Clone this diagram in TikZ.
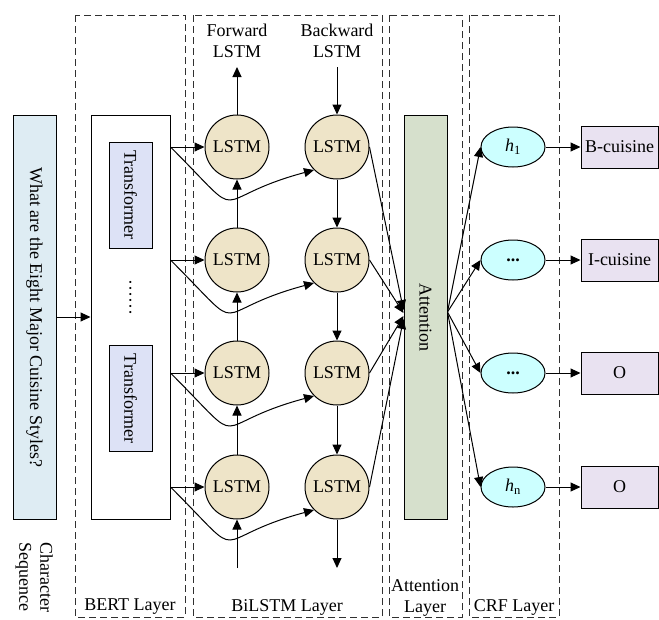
\documentclass[tikz,border=0pt]{standalone}
\usepackage{fontspec}
\setmainfont{Liberation Serif}
\usetikzlibrary{arrows.meta,calc,shapes.geometric}
\definecolor{charfill}{HTML}{DEECF3}
\definecolor{transfill}{HTML}{DDE2F6}
\definecolor{lstmfill}{HTML}{EEE4C8}
\definecolor{attfill}{HTML}{D6E0CC}
\definecolor{hfill}{HTML}{CCFFFF}
\definecolor{outfill}{HTML}{E9E2F1}
\definecolor{dashcol}{HTML}{303030}
\begin{document}
\begin{tikzpicture}[x=1pt,y=-1pt,
  every node/.style={font=\fontsize{18}{21}\selectfont, inner sep=1pt},
  layerbox/.style={draw=dashcol, line width=1pt, dash pattern=on 7pt off 4pt},
  tallbox/.style={draw, line width=1pt, minimum width=43pt, minimum height=404pt},
  transbox/.style={draw, line width=1pt, fill=transfill, minimum width=43pt, minimum height=106pt},
  lstm/.style={draw, circle, line width=1pt, fill=lstmfill, minimum size=64pt},
  hnode/.style={draw, ellipse, line width=1pt, fill=hfill, minimum width=64pt, minimum height=40pt},
  outbox/.style={draw, line width=1pt, fill=outfill, minimum width=77pt, minimum height=42pt},
  arr/.style={line width=1pt, -{Triangle[length=10pt,width=9pt]}},
  plain/.style={line width=1pt}
]
\useasboundingbox (0,0) rectangle (659,619);

% layer boxes
\draw[layerbox] (75,15) rectangle (185,617);
\draw[layerbox] (193,15) rectangle (382,617);
\draw[layerbox] (389,15) rectangle (462,617);
\draw[layerbox] (469,15) rectangle (559,617);

% layer labels
\node (lbert) at (130,607) {BERT Layer};
\node (lbilstm) at (287,607) {BiLSTM Layer};
\node[align=center] (latt) at (425,598) {Attention\\Layer};
\node (lcrf) at (514,607) {CRF Layer};
\node (lchar) at (34,577) {\rotatebox{-90}{\begin{tabular}{@{}c@{}}Character\\Sequence\end{tabular}}};

% input
\node[tallbox, fill=charfill] (char) at (34.5,317) {\rotatebox{-90}{What are the Eight Major Cuisine Styles?}};

% BERT
\node[tallbox, fill=white, minimum width=79pt] (bert) at (130.5,317) {};
\node[transbox] (t1) at (130.5,195) {\rotatebox{-90}{Transformer}};
\node[transbox] (t2) at (130.5,398.5) {\rotatebox{-90}{Transformer}};
\node (tdots) at (130.5,297) {\rotatebox{-90}{……}};

\draw[arr] (char.east) -- (bert.west);

% LSTMs
\foreach \i/\y in {1/147,2/260,3/373,4/487}{
  \node[lstm] (f\i) at (237,\y) {LSTM};
  \node[lstm] (b\i) at (337,\y) {LSTM};
  \node[hnode] (h\i) at (513,\y) {};
}
\node[align=center] (fwdlab) at (237,41) {Forward\\LSTM};
\node[align=center] (bwdlab) at (337,41) {Backward\\LSTM};
\coordinate (ftop) at (237,67);
\coordinate (btop) at (337,67);
\coordinate (fbot) at (237,568);
\coordinate (bbot) at (337,568);

\draw[arr] (f1.north) -- (ftop);
\draw[arr] (btop) -- (b1.north);
\draw[arr] (fbot) -- (f4.south);
\draw[arr] (b4.south) -- (bbot);
\draw[arr] (f4.north) -- (f3.south);
\draw[arr] (f3.north) -- (f2.south);
\draw[arr] (f2.north) -- (f1.south);
\draw[arr] (b1.south) -- (b2.north);
\draw[arr] (b2.south) -- (b3.north);
\draw[arr] (b3.south) -- (b4.north);

\foreach \i in {1,2,3,4}{
  \draw[arr] (bert.east |- f\i.west) -- (f\i.west);
  \draw[arr] (bert.east |- f\i.west) to[out=-45,in=195,looseness=2] (b\i.south west);
}

% attention
\node[tallbox, fill=attfill] (att) at (425.5,317) {\rotatebox{-90}{Attention}};
\draw[arr] (b1.east) -- ($(att.west)+(0,-7)$);
\draw[arr] (b2.east) -- ($(att.west)+(0,-4)$);
\draw[arr] (b3.east) -- ($(att.west)+(0,-1)$);
\draw[arr] (b4.east) -- ($(att.west)+(0,2)$);

% CRF
\node (h1t) at (h1) {\textit{h}\textsubscript{1}};
\node (h2t) at (h2) {\textbf{...}};
\node (h3t) at (h3) {\textbf{...}};
\node (h4t) at (h4) {\textit{h}\textsubscript{n}};
\foreach \i in {1,2,3,4}{
  \draw[arr] ($(att.east)+(0,-5)$) -- (h\i.west);
}

% outputs
\node[outbox] (o1) at (619.5,147) {B-cuisine};
\node[outbox] (o2) at (619.5,260) {I-cuisine};
\node[outbox] (o3) at (619.5,373) {O};
\node[outbox] (o4) at (619.5,487) {O};
\foreach \i in {1,2,3,4}{
  \draw[arr] (h\i.east) -- (o\i.west);
}
\end{tikzpicture}
\end{document}
